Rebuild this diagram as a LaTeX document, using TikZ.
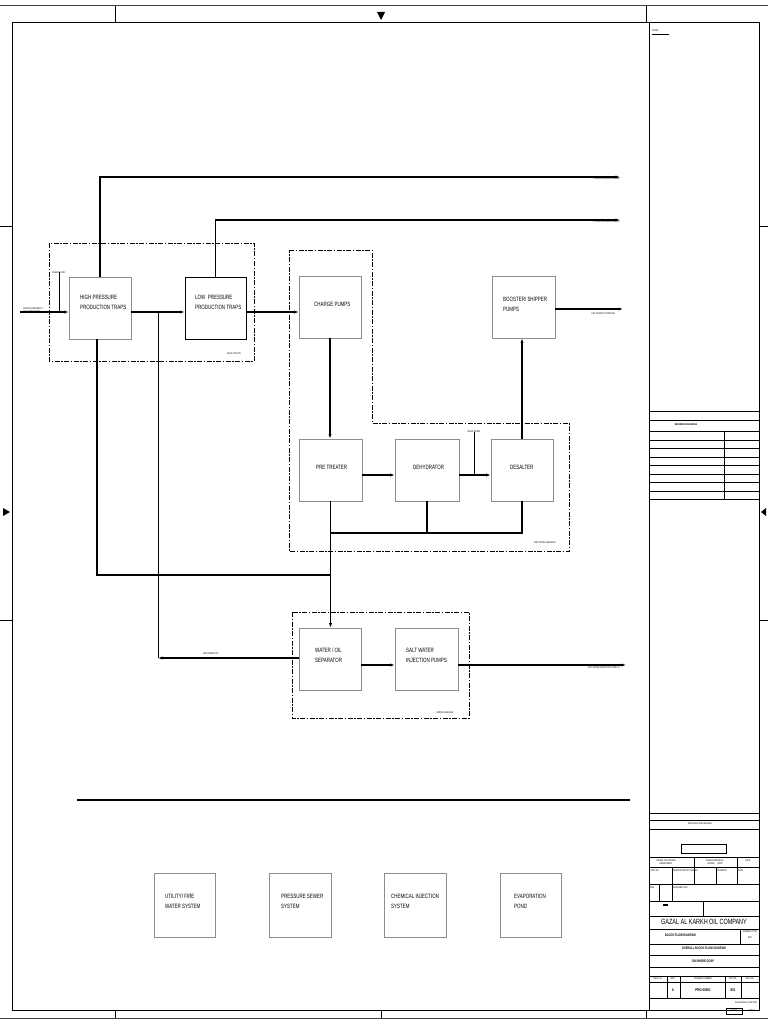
\documentclass[tikz,border=0pt]{standalone}
\usepackage{fontspec}
\setmainfont{Liberation Sans}
\newfontfamily\nar[FakeStretch=0.72]{Liberation Sans}
\usetikzlibrary{arrows.meta}
\begin{document}
\begin{tikzpicture}[x=1pt,y=-1pt,
  box/.style={draw=black!45,line width=0.7pt,minimum width=62pt,minimum height=62pt,inner sep=0pt},
  txt/.style={font=\nar\fontsize{6.2}{9.5}\selectfont,align=left,anchor=north west,inner sep=0pt},
  tiny/.style={font=\nar\fontsize{2.6}{3}\selectfont,inner sep=0pt,align=center},
  tb/.style={line width=0.6pt},
  flow/.style={line width=1.2pt},
  thinflow/.style={line width=0.7pt},
  arr/.style={-{Latex[length=4.5pt,width=3.2pt]}},
  zone/.style={line width=0.9pt,dash pattern=on 5pt off 1.5pt on 1.5pt off 1.5pt},
  frm/.style={line width=0.8pt}]
\useasboundingbox (0,0) rectangle (768,1024);
\fill[white] (0,0) rectangle (768,1024);
% ---------- frame ----------
\draw[line width=1pt,black!75] (0,6) -- (768,6);
\draw[line width=1pt,black!75] (0,1018) -- (768,1018);
\draw[frm] (12,22) rectangle (759,1010);
\foreach \x in {115,646} {\draw[frm] (\x,6) -- (\x,22); \draw[frm] (\x,1010) -- (\x,1018);}
\draw[frm] (381,1010) -- (381,1018);
\fill (377,12) -- (385,12) -- (381,20) -- cycle;
\foreach \y in {226,620} {\draw[frm] (0,\y) -- (12,\y); \draw[frm] (759,\y) -- (768,\y);}
\fill (3,508) -- (3,516) -- (10,512) -- cycle;
\fill (766,508) -- (766,516) -- (761,512) -- cycle;
% ---------- title block ----------
\draw[tb] (649,22) -- (649,1010);
\foreach \y in {411,420,431,440,448,457,465,474,482,491,499,813,820,829,857,867,884,901,916,929,944,955,967,976,982,998}
  {\draw[tb] (649,\y) -- (759,\y);}
\draw[tb] (724,431) -- (724,499);
\foreach \x in {694,737} {\draw[tb] (\x,857) -- (\x,867);}
\foreach \x in {672,694,716,737} {\draw[tb] (\x,867) -- (\x,884);}
\foreach \x in {659,672} {\draw[tb] (\x,884) -- (\x,901);}
\draw[tb] (703,901) -- (703,916);
\draw[tb] (740,929) -- (740,944);
\foreach \x in {667,680,725,741} {\draw[tb] (\x,976) -- (\x,998);}
\draw[tb] (681,844) rectangle (726,853);
\draw[line width=1.2pt] (663,905) -- (668,905);
\node[tiny,anchor=west] (notes) at (652,31) {NOTES};
\draw[line width=1pt] (652,35) -- (669,35);
\node[tiny,font=\nar\bfseries\fontsize{2.6}{3}\selectfont] (refd) at (686,425) {REFERENCE DRAWINGS};
\node[tiny] (revr) at (700,824) {REVISIONS AND RELEASE};
\node[tiny] (r1a) at (666,862) {ISSUED FOR REVIEW\\DEPARTMENT};
\node[tiny] (r1b) at (715,862) {DESIGN APPROVAL\\ISSUED \quad DATE};
\node[tiny] (r1c) at (748,861) {DATE};
\node[tiny,anchor=west] (r2a) at (651,871) {REV. NO.};
\node[tiny,anchor=west] (r2b) at (673,871) {DESCRIPTION OF CHANGE};
\node[tiny,anchor=west] (r2c) at (717,871) {DRAWN BY};
\node[tiny,anchor=west] (r2d) at (738,871) {DATE};
\node[tiny,anchor=west] (r3a) at (650,888) {DRG};
\node[tiny,anchor=west] (r3b) at (673,888) {DESIGNED FOR};
\node[font=\nar\fontsize{7.6}{9}\selectfont,inner sep=0pt] (co) at (704,922) {GAZAL AL KARKH OIL COMPANY};
\node[font=\nar\bfseries\fontsize{3.6}{4}\selectfont,inner sep=0pt,anchor=west] (bfd) at (665,935) {BLOCK FLOW DIAGRAM};
\node[tiny] (dtype) at (750,932) {DRAWING TYPE};
\node[tiny] (bfdv) at (750,938) {BFD};
\node[font=\nar\bfseries\fontsize{3.6}{4}\selectfont,inner sep=0pt] (ov) at (704,948) {OVERALL BLOCK FLOW DIAGRAM};
\node[font=\nar\bfseries\fontsize{3.6}{4}\selectfont,inner sep=0pt] (gosp) at (703,961) {ON SHORE GOSP};
\node[tiny] (h1) at (658,979) {DWG. SC.};
\node[tiny] (h2) at (673,979) {REV.};
\node[tiny] (h3) at (703,979) {DRAWING NUMBER};
\node[tiny] (h4) at (733,979) {SHT. NO.};
\node[tiny] (h5) at (750,979) {REV. NO.};
\node[font=\nar\bfseries\fontsize{4}{5}\selectfont,inner sep=0pt] (v2) at (673,990) {A};
\node[font=\nar\bfseries\fontsize{4}{5}\selectfont,inner sep=0pt] (v3) at (703,990) {PRO-00001};
\node[font=\nar\bfseries\fontsize{4}{5}\selectfont,inner sep=0pt] (v4) at (733,990) {001};
\node[tiny] (scl) at (746,1003) {Scale Number 00 00 0000};
\draw[line width=0.8pt] (726,1008) rectangle (742,1014);
\node[tiny] (smp) at (734,1011) {XXXXX};
\node[tiny] (sc) at (752,1011) {2000 Sc};
% ---------- zones ----------
\draw[zone] (49,243) rectangle (254,361);
\draw[zone] (289,250) -- (372,250) -- (372,423) -- (569,423) -- (569,551) -- (289,551) -- cycle;
\draw[zone] (292,612) rectangle (469,718);
\node[tiny] (zin) at (234,354) {INLET FACILITY};
\node[tiny] (zwc) at (545,543) {WET CRUDE HANDLING};
\node[tiny] (zwh) at (445,713) {WATER HANDLING};
% ---------- boxes ----------
\node[box] (hp) at (100,308) {};
\node[box,draw=black,line width=1pt,minimum width=61pt] (lp) at (215.5,308) {};
\node[box] (chg) at (330,307) {};
\node[box,minimum width=63pt] (bst) at (523.5,307) {};
\node[box,minimum width=63pt] (pre) at (330.5,470) {};
\node[box,minimum width=64pt] (dhy) at (427,470) {};
\node[box] (des) at (522,470) {};
\node[box] (wos) at (330,659) {};
\node[box,minimum width=63pt] (swp) at (426.5,659) {};
\node[box,minimum width=61pt,minimum height=64pt] (ut) at (184.5,905) {};
\node[box,minimum width=62pt,minimum height=64pt] (ps) at (300,905) {};
\node[box,minimum width=62pt,minimum height=64pt] (ci) at (415,905) {};
\node[box,minimum width=61pt,minimum height=64pt] (ep) at (530.5,905) {};
\node[txt] (thp) at (80,295) {HIGH PRESSURE\\PRODUCTION TRAPS};
\node[txt] (tlp) at (195,295) {LOW \ PRESSURE\\PRODUCTION TRAPS};
\node[txt] (tchg) at (314,302) {CHARGE PUMPS};
\node[txt] (tbst) at (503,297) {BOOSTER/ SHIPPER\\PUMPS};
\node[txt] (tpre) at (316,465) {PRE TREATER};
\node[txt] (tdhy) at (413,465) {DEHYDRATOR};
\node[txt] (tdes) at (510,465) {DESALTER};
\node[txt] (twos) at (315,648) {WATER / OIL\\SEPARATOR};
\node[txt] (tswp) at (406,648) {SALT WATER\\INJECTION PUMPS};
\node[txt] (tut) at (165,894) {UTILITY/ FIRE\\WATER SYSTEM};
\node[txt] (tps) at (281,894) {PRESSURE SEWER\\SYSTEM};
\node[txt] (tci) at (391,894) {CHEMICAL INJECTION\\SYSTEM};
\node[txt] (tep) at (514,894) {EVAPORATION\\POND};
% ---------- coordinates ----------
\coordinate (y312) at (0,312);
\coordinate (y475) at (0,475);
\coordinate (y533) at (0,533);
\coordinate (y575) at (0,575);
\coordinate (y665) at (0,665);
\coordinate (y658) at (0,658);
\coordinate (gashp) at (620,177);
\coordinate (gaslp) at (620,220);
\coordinate (feed) at (20,312);
\coordinate (chem) at (59,272);
\coordinate (dry) at (623,309);
\coordinate (salt) at (626,665);
\coordinate (ww) at (474,432);
\coordinate (recov) at (158,658);
\coordinate (hpdrain) at (97,339);
% ---------- connectors ----------
\draw[flow,arr] (hp.north) |- (gashp);
\draw[flow,arr] (lp.north) |- (gaslp);
\node[tiny,anchor=south east] (lhp) at ([yshift=-3pt]gashp) {TO GAS GATHERING HIGH HP};
\node[tiny,anchor=south east] (llp) at ([yshift=-3pt]gaslp) {TO GAS GATHERING HIGH LP};
\draw[flow,arr] (feed) -- (hp.west|-y312);
\node[tiny,align=left,anchor=west] (lfeed) at (23,310.5) {CRUDE FROM WELLS\\(GAS / WELLHEAD)};
\draw[thinflow] (chem) -- (chem|-y312);
\node[tiny,anchor=south] (lchem) at ([yshift=-2pt]chem) {CHEMICAL INJ.};
\draw[flow,arr] (hp.east|-y312) -- (lp.west|-y312);
\draw[flow,arr] (lp.east|-y312) -- (chg.west|-y312);
\draw[flow,arr] (chg.south) -- (chg.south|-pre.north);
\draw[flow,arr] (pre.east|-y475) -- (dhy.west|-y475);
\draw[flow,arr] (dhy.east|-y475) -- (des.west|-y475);
\draw[thinflow] (ww) -- (ww|-y475);
\node[tiny,anchor=south] (lww) at ([yshift=-1pt]ww) {WASH WATER};
\draw[flow,arr] (des.north) -- (des.north|-bst.south);
\draw[flow,arr] (bst.east|-dry) -- (dry);
\node[tiny,anchor=south east] (ldry) at ([xshift=-8pt,yshift=-6pt]dry) {DRY CRUDE TO PIPELINE};
\draw[flow] (pre.south) -- (pre.south|-y533) -- (des.south|-y533) -- (des.south);
\draw[flow] (dhy.south) -- (dhy.south|-y533);
\draw[flow,arr] (pre.south|-y533) -- (pre.south|-wos.north);
\draw[flow] (hpdrain) -- (hpdrain|-y575) -- (pre.south|-y575);
\draw[flow,arr] (wos.west|-y658) -- (recov);
\draw[thinflow] (recov) -- (recov|-y312);
\node[tiny,anchor=south] (lrec) at (211,655) {RECOVERED OIL};
\draw[flow,arr] (wos.east|-y665) -- (swp.west|-y665);
\draw[flow,arr] (swp.east|-y665) -- (salt);
\node[tiny,anchor=south east] (lsalt) at ([xshift=-6pt,yshift=-4pt]salt) {SALT WATER INJECTION TO WELLS};
% ---------- separator ----------
\draw[line width=1.3pt] (77,800) -- (630,800);
\end{tikzpicture}
\end{document}
